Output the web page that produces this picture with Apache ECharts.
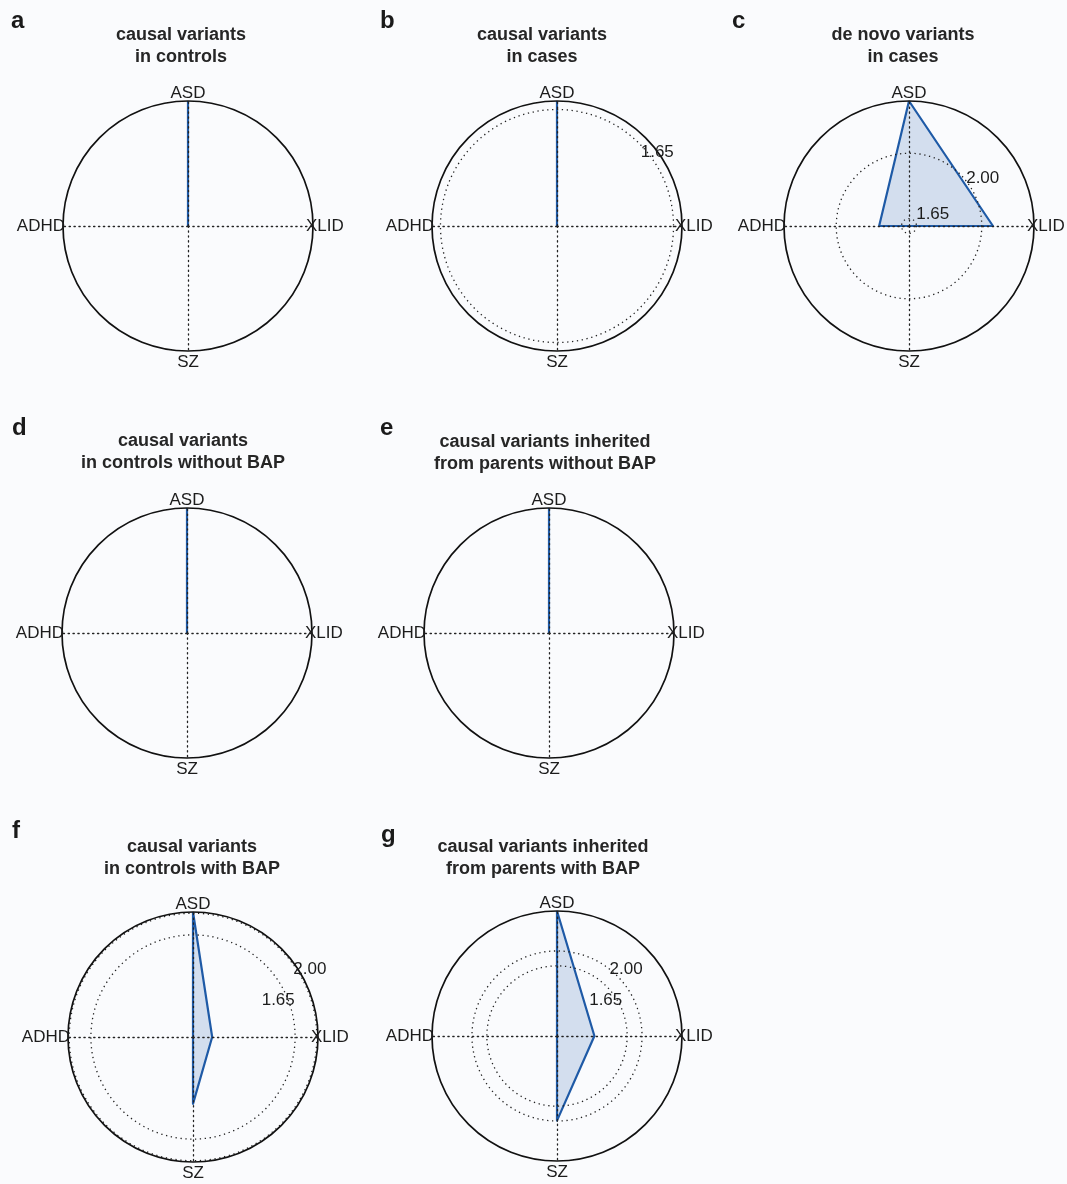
<!DOCTYPE html>
<html>
<head>
<meta charset="utf-8">
<script src="https://cdn.jsdelivr.net/npm/echarts@6/dist/echarts.min.js"></script>
<style>
  html, body { margin: 0; padding: 0; background: #fafbfd; }
  #chart { width: 1067px; height: 1184px; }
</style>
</head>
<body>
<div id="chart"></div>
<script>
// Disorder axes, clockwise from the top
const disorders = ['ASD', 'XLID', 'SZ', 'ADHD'];
// z-score reference circles
const thresholds = [1.65, 2.00];

const panelLetters = ['a', 'b', 'c', 'd', 'e', 'f', 'g'];
const panelTitles = [
  'causal variants\nin controls',
  'causal variants\nin cases',
  'de novo variants\nin cases',
  'causal variants\nin controls without BAP',
  'causal variants inherited\nfrom parents without BAP',
  'causal variants\nin controls with BAP',
  'causal variants inherited\nfrom parents with BAP'
];

// radial scale of each panel: value at the centre and at the rim
const scaleMin = [0, 0, 1.61, 0, 0, 0, 0];
const scaleMax = [1.20, 1.77, 2.28, 1.10, 1.00, 2.02, 2.94];

// scores per disorder, one entry per panel (a..g)
const asdScore  = [1.20, 1.77, 2.28, 1.10, 1.00, 2.02, 2.94];
const xlidScore = [0.00, 0.00, 2.06, 0.00, 0.00, 0.31, 0.88];
const szScore   = [0.00, 0.00, 1.61, 0.00, 0.00, 1.08, 1.99];
const adhdScore = [0.00, 0.00, 1.77, 0.00, 0.00, 0.00, 0.00];

const scores = { ASD: asdScore, XLID: xlidScore, SZ: szScore, ADHD: adhdScore };

// panel placement: plot centre, title centre/top, letter position,
// and the nudge of each threshold label away from its circle
const layout = [
  { cx: 188, cy: 226,  tx: 181, ty: 24,  lx: 11,  ly: 8,   shift: {} },
  { cx: 557, cy: 226,  tx: 542, ty: 24,  lx: 380, ly: 8,   shift: { 1.65: [11, 1] } },
  { cx: 909, cy: 226,  tx: 903, ty: 24,  lx: 732, ly: 8,   shift: { 1.65: [18, -7], 2: [18, -1] } },
  { cx: 187, cy: 633,  tx: 183, ty: 430, lx: 12,  ly: 415, shift: {} },
  { cx: 549, cy: 633,  tx: 545, ty: 431, lx: 380, ly: 415, shift: {} },
  { cx: 193, cy: 1037, tx: 192, ty: 836, lx: 12,  ly: 818, shift: { 1.65: [7, 29], 2: [22, 12] } },
  { cx: 557, cy: 1036, tx: 543, ty: 836, lx: 381, ly: 822, shift: { 1.65: [-5, 9], 2: [4, -12] } }
];
const LABEL_ANGLE = 40;
const RADIUS = 125;
const FONT = '"Liberation Sans", Arial, Helvetica, sans-serif';
const INK = '#1c1c1c';
const BLUE = '#1f5aa6';

// radar indicators run counter-clockwise from the top
const radarOrder = ['ASD', 'ADHD', 'SZ', 'XLID'];
const nameSide = { ASD: 'top', XLID: 'right', SZ: 'bottom', ADHD: 'left' };
const nameRich = {
  top:    { fontSize: 17, fontFamily: FONT, color: INK, padding: [0, 0, 6, 0] },
  right:  { fontSize: 17, fontFamily: FONT, color: INK, padding: [0, 0, 0, 0] },
  bottom: { fontSize: 17, fontFamily: FONT, color: INK, padding: [10, 0, 0, 0] },
  left:   { fontSize: 17, fontFamily: FONT, color: INK, padding: [0, 5, 0, 0] }
};
const dotted = { color: '#222', width: 1.3, type: [1.3, 3.6] };

const title = [];
const radar = [];
const polar = [];
const angleAxis = [];
const radiusAxis = [];
const series = [];

layout.forEach((p, i) => {
  const lo = scaleMin[i];
  const hi = scaleMax[i];
  const visible = thresholds.filter(v => v > lo && v < hi + 1e-9);

  title.push({
    text: panelLetters[i], left: p.lx, top: p.ly, padding: 0,
    textStyle: { fontSize: 24, fontWeight: 'bold', fontFamily: FONT, color: '#1a1a1a', lineHeight: 26 }
  });
  title.push({
    text: panelTitles[i], left: p.tx, top: p.ty, padding: 0, textAlign: 'center',
    textStyle: { fontSize: 18, fontWeight: 'bold', fontFamily: FONT, color: '#262626', lineHeight: 22 }
  });

  radar.push({
    center: [p.cx, p.cy],
    radius: RADIUS,
    shape: 'circle',
    startAngle: 90,
    splitNumber: 1,
    z: 3,
    nameGap: -7,
    indicator: radarOrder.map(name => ({ name, min: lo, max: hi })),
    axisName: {
      formatter: name => '{' + nameSide[name] + '|' + name + '}',
      color: INK, fontSize: 17, fontFamily: FONT,
      rich: nameRich
    },
    axisLine: { lineStyle: dotted },
    axisTick: { show: false },
    axisLabel: { show: false },
    splitLine: { lineStyle: { color: '#111', width: 1.7 } },
    splitArea: { show: false }
  });

  // polar system sharing the radar's centre and scale: threshold circles and their labels
  polar.push({ center: [p.cx, p.cy], radius: RADIUS, z: 3 });
  angleAxis.push({
    polarIndex: i, type: 'value', min: 0, max: 360, startAngle: 0, clockwise: false,
    axisLine: { show: false }, axisTick: { show: false },
    axisLabel: { show: false }, splitLine: { show: false }
  });
  radiusAxis.push({
    polarIndex: i, type: 'value', min: lo, max: hi, z: 3,
    axisLine: { show: false },
    axisTick: { show: false, customValues: visible },
    axisLabel: { show: false },
    splitLine: { show: visible.length > 0, lineStyle: dotted },
    splitArea: { show: false }
  });

  series.push({
    type: 'radar',
    radarIndex: i,
    symbol: 'none',
    silent: true,
    lineStyle: { color: BLUE, width: 2.2 },
    areaStyle: { color: 'rgba(30, 90, 170, 0.25)' },
    data: [{ value: radarOrder.map(name => scores[name][i]), name: panelLetters[i] }]
  });

  if (visible.length) {
    series.push({
      type: 'scatter',
      coordinateSystem: 'polar',
      polarIndex: i,
      symbolSize: 0,
      silent: true,
      z: 4,
      itemStyle: { opacity: 1 },
      label: {
        show: true, position: 'inside', opacity: 1,
        formatter: d => d.value[0].toFixed(2),
        fontSize: 17, fontFamily: FONT, color: INK
      },
      data: visible.map(v => ({
        value: [v, LABEL_ANGLE],
        label: { offset: p.shift[v] || [0, 0] }
      }))
    });
  }
});

const chart = echarts.init(document.getElementById('chart'), null, { renderer: 'canvas' });
chart.setOption({
  backgroundColor: '#fafbfd',
  animation: false,
  title, radar, polar, angleAxis, radiusAxis, series
});
</script>
</body>
</html>
